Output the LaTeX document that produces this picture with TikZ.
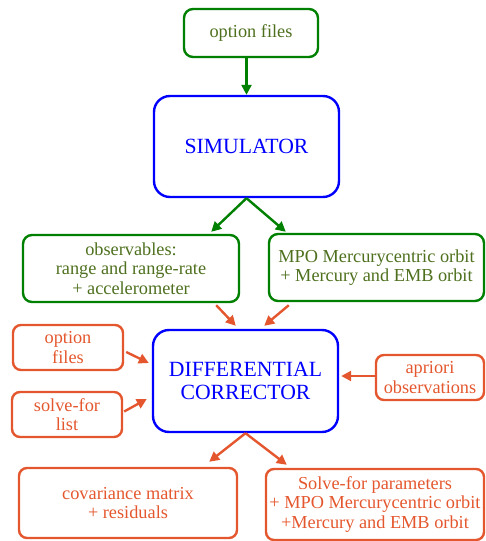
\documentclass[tikz,border=0pt]{standalone}
\usepackage{fontspec}
\setmainfont{Liberation Serif}
\usetikzlibrary{arrows.meta,calc}
\definecolor{gborder}{RGB}{0,128,0}
\definecolor{gtext}{RGB}{78,112,30}
\definecolor{oline}{RGB}{228,87,46}
\definecolor{bline}{RGB}{0,0,255}
\begin{document}
\begin{tikzpicture}[x=1pt,y=-1pt,
  box/.style={draw,line width=2.4pt,align=center,inner sep=0pt,
    font=\fontsize{18.3}{19.5}\selectfont},
  gbox/.style={box,draw=gborder,text=gtext,rounded corners=9pt},
  obox/.style={box,draw=oline,text=oline,rounded corners=8pt},
  bbox/.style={box,draw=bline,text=bline,rounded corners=16pt,
    font=\fontsize{21.7}{23}\selectfont},
  garr/.style={draw=gborder,line width=2.4pt,-{Triangle[length=10pt,width=10pt]}},
  oarr/.style={draw=oline,line width=2.4pt,-{Triangle[length=10pt,width=10pt]}}]
\useasboundingbox (0,0) rectangle (485,541);
\node[gbox,minimum width=134pt,minimum height=48pt] (optTop) at (251,33) {option files};
\node[bbox,minimum width=185pt,minimum height=101pt] (sim) at (246.5,146.5) {SIMULATOR};
\node[gbox,minimum width=216pt,minimum height=67pt] (obs) at (131,268.5) {observables:\\range and range-rate\\+ accelerometer};
\node[gbox,minimum width=215pt,minimum height=67pt] (mpo) at (376.5,267.5) {MPO Mercurycentric orbit\\+ Mercury and EMB orbit};
\node[bbox,minimum width=185pt,minimum height=102pt] (dc) at (245.5,381) {DIFFERENTIAL\\CORRECTOR};
\node[obox,minimum width=110pt,minimum height=45pt] (optL) at (68,347.5) {option\\files};
\node[obox,minimum width=110pt,minimum height=45pt] (sfl) at (67,414.5) {solve-for\\list};
\node[obox,minimum width=108pt,minimum height=45pt] (apr) at (430,377.5) {apriori\\observations};
\node[obox,minimum width=218pt,minimum height=70pt] (cov) at (128,503) {covariance matrix\\+ residuals};
\node[obox,minimum width=218pt,minimum height=71pt] (sfp) at (375,504.5) {Solve-for parameters\\+ MPO Mercurycentric orbit\\+Mercury and EMB orbit};
% green arrows
\draw[garr] (optTop.south -| sim.north) -- (sim.north);
\draw[garr] (sim.south) -- ($(obs.north east)+(-29,-2)$);
\draw[garr] (sim.south) -- ($(mpo.north west)+(18,-1)$);
% orange arrows
\draw[oarr] ($(obs.south east)+(-24,2)$) -- ($(dc.north west)+(84,-3)$);
\draw[oarr] ($(mpo.south west)+(21,3)$) -- ($(dc.north east)+(-75,-3)$);
\draw[oarr] ($(optL.east)+(2,4.5)$) -- ($(dc.west)+(-3,-18)$);
\draw[oarr] ($(sfl.east)+(1,-3)$) -- ($(dc.west)+(-5,18)$);
\draw[oarr] ($(apr.west)+(0,-1.5)$) -- ($(dc.east)+(2,-5)$);
\draw[oarr] (dc.south) -- ($(cov.north east)+(-29,-5)$);
\draw[oarr] (dc.south) -- ($(sfp.north west)+(22,-3)$);
\end{tikzpicture}
\end{document}
